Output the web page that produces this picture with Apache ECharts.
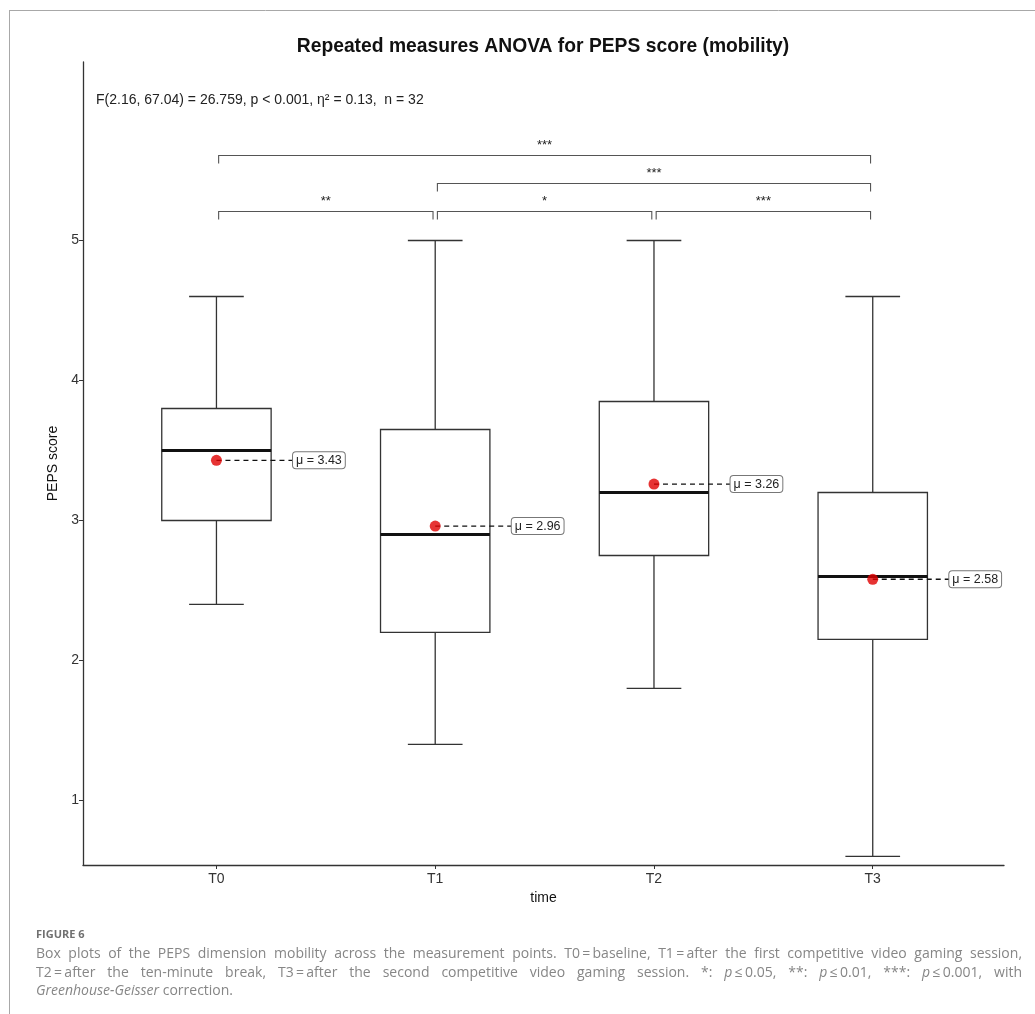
<!DOCTYPE html>
<html><head><meta charset="utf-8">
<script src="https://cdn.jsdelivr.net/npm/echarts@6/dist/echarts.min.js"></script>
<style>html,body{margin:0;padding:0;background:#fff}#c{width:1035px;height:1014px}</style>
</head><body><div id="c"></div>
<script>
// ---- data ----
const categories = ['T0', 'T1', 'T2', 'T3'];
const whiskerLow  = [2.4, 1.4, 1.8, 0.6];
const quart1      = [3.0, 2.2, 2.75, 2.15];
const median      = [3.5, 2.9, 3.2, 2.6];
const quart3      = [3.8, 3.65, 3.85, 3.2];
const whiskerHigh = [4.6, 5.0, 5.0, 4.6];
const means       = [3.43, 2.96, 3.26, 2.58];
const yTicks      = [1, 2, 3, 4, 5];
const cmpFrom  = [0, 1, 2, 1, 0];
const cmpTo    = [1, 2, 3, 3, 3];
const cmpRow   = [0, 0, 0, 1, 2];
const cmpLabel = ['**', '*', '***', '***', '***'];
const titleText = 'Repeated measures ANOVA for PEPS score (mobility)';
const statText = 'F(2.16, 67.04) = 26.759, p < 0.001, \u03b7\u00b2 = 0.13,  n = 32';
const captionHead = 'FIGURE 6';
const captionLines = [
  ['Box plots of the PEPS dimension mobility across the measurement points. T0\u2009=\u2009baseline, T1\u2009=\u2009after the first competitive video gaming session,', true],
  ['T2\u2009=\u2009after the ten-minute break, T3\u2009=\u2009after the second competitive video gaming session. *: {i|p}\u2009\u2264\u20090.05, **: {i|p}\u2009\u2264\u20090.01, ***: {i|p}\u2009\u2264\u20090.001, with', true],
  ['{i|Greenhouse-Geisser} correction.', false]
];

// ---- style constants ----
const FONT = '"Liberation Sans", Arial, sans-serif';
const CAPFONT = '"Open Sans", sans-serif';
const INK = '#333';
const bracketBase = 5.207, bracketStep = 0.2;

const chart = echarts.init(document.getElementById('c'), null, {renderer: 'canvas'});

function renderBox(params, api) {
  const x = api.value(0);
  const lo = api.coord([x, api.value(1)]);
  const b1 = api.coord([x, api.value(2)]);
  const md = api.coord([x, api.value(3)]);
  const b3 = api.coord([x, api.value(4)]);
  const hi = api.coord([x, api.value(5)]);
  const bw = api.size([0.5, 0])[0];
  const cw = api.size([0.25, 0])[0];
  const cx = lo[0];
  const st = {stroke: INK, lineWidth: 1.3, fill: null};
  return {type: 'group', children: [
    {type: 'line', shape: {x1: cx, y1: hi[1], x2: cx, y2: b3[1]}, style: st},
    {type: 'line', shape: {x1: cx, y1: b1[1], x2: cx, y2: lo[1]}, style: st},
    {type: 'line', shape: {x1: cx - cw / 2, y1: hi[1], x2: cx + cw / 2, y2: hi[1]}, style: st},
    {type: 'line', shape: {x1: cx - cw / 2, y1: lo[1], x2: cx + cw / 2, y2: lo[1]}, style: st},
    {type: 'rect', shape: {x: cx - bw / 2, y: b3[1], width: bw, height: b1[1] - b3[1]}, style: {stroke: INK, lineWidth: 1.3, fill: '#fff'}},
    {type: 'line', shape: {x1: cx - bw / 2, y1: md[1], x2: cx + bw / 2, y2: md[1]}, style: {stroke: '#111', lineWidth: 3}}
  ]};
}

function renderMeanLabel(params, api) {
  const x = api.value(0), m = api.value(1);
  const p = api.coord([x, m]);
  const off = api.size([0.35, 0])[0];
  return {type: 'group', children: [
    {type: 'line', shape: {x1: p[0], y1: p[1], x2: p[0] + off, y2: p[1]}, style: {stroke: '#111', lineWidth: 1.3, lineDash: [5, 4]}},
    {type: 'text', x: p[0] + off, y: p[1], style: {
      text: '\u03bc = ' + m.toFixed(2), fontSize: 12.5, fontFamily: FONT, fill: '#222',
      align: 'left', verticalAlign: 'middle',
      backgroundColor: '#fff', borderColor: '#777', borderWidth: 1, borderRadius: 3, padding: [2, 3, 1, 3]
    }}
  ]};
}

function renderBracket(params, api) {
  const a = api.value(0), b = api.value(1), row = api.value(2), li = api.value(3);
  const yb = bracketBase + bracketStep * row;
  const p1 = api.coord([a + 0.01, yb]);
  const p2 = api.coord([b - 0.01, yb]);
  const tip = api.size([0, 0.057])[1];
  return {type: 'group', children: [
    {type: 'polyline', shape: {points: [[p1[0], p1[1] + tip], [p1[0], p1[1]], [p2[0], p2[1]], [p2[0], p2[1] + tip]]},
      style: {stroke: '#555', lineWidth: 1.1, fill: null}},
    {type: 'text', x: (p1[0] + p2[0]) / 2, y: p1[1] - 10, style: {
      text: cmpLabel[li], fontSize: 13, fontFamily: FONT, fill: '#222', align: 'center', verticalAlign: 'middle'}}
  ]};
}

// caption layout (justified)
const mctx = document.createElement('canvas').getContext('2d');
function measure(word, size, family) {
  let w = 0;
  const re = /\{i\|([^}]*)\}|([^{]+)/g;
  let m;
  while ((m = re.exec(word)) !== null) {
    if (m[1] !== undefined) { mctx.font = 'italic ' + size + 'px ' + family; w += mctx.measureText(m[1]).width; }
    else { mctx.font = size + 'px ' + family; w += mctx.measureText(m[2]).width; }
  }
  return w;
}
const capGraphics = [];
const capLeft = 36, capRight = 1022, capSize = 14, capColor = '#868686';
const capMids = [954, 973, 991];
captionLines.forEach(([line, justify], li) => {
  const words = line.split(' ');
  const widths = words.map(w => measure(w, capSize, CAPFONT));
  const total = widths.reduce((s, v) => s + v, 0);
  const space = justify ? (capRight - capLeft - total) / (words.length - 1) : measure(' ', capSize, CAPFONT);
  let x = capLeft;
  words.forEach((w, wi) => {
    capGraphics.push({type: 'text', x: x, y: capMids[li], style: {
      text: w, fontSize: capSize, fontFamily: CAPFONT, fill: capColor, verticalAlign: 'middle',
      rich: {i: {fontStyle: 'italic', fontSize: capSize, fontFamily: CAPFONT, fill: capColor}}
    }});
    x += widths[wi] + space;
  });
});

const option = {
  backgroundColor: '#fff',
  animation: false,
  grid: {left: 83, right: 31, top: 62, bottom: 149, containLabel: false},
  xAxis: {
    type: 'value', min: 0.39, max: 4.6,
    name: 'time', nameLocation: 'middle', nameGap: 23,
    nameTextStyle: {fontSize: 14, fontFamily: FONT, color: '#111'},
    axisLine: {show: true, lineStyle: {color: INK, width: 1.3}},
    axisTick: {show: true, length: 4, customValues: [1, 2, 3, 4], lineStyle: {color: INK}},
    axisLabel: {customValues: [1, 2, 3, 4], formatter: v => categories[Math.round(v) - 1], fontSize: 14, fontFamily: FONT, color: '#333', margin: 7},
    splitLine: {show: false}
  },
  yAxis: {
    type: 'value', min: 0.539, max: 6.275,
    name: 'PEPS score', nameLocation: 'middle', nameGap: 22,
    nameTextStyle: {fontSize: 14, fontFamily: FONT, color: '#111'},
    axisLine: {show: true, lineStyle: {color: INK, width: 1.3}},
    axisTick: {show: true, length: 4, customValues: yTicks, lineStyle: {color: INK}},
    axisLabel: {customValues: yTicks, fontSize: 14, fontFamily: FONT, color: '#333', margin: 4},
    splitLine: {show: false}
  },
  series: [
    {type: 'custom', renderItem: renderBox, z: 2,
      data: categories.map((c, i) => [i + 1, whiskerLow[i], quart1[i], median[i], quart3[i], whiskerHigh[i]])},
    {type: 'custom', renderItem: renderMeanLabel, z: 3,
      data: means.map((m, i) => [i + 1, m])},
    {type: 'scatter', z: 4, symbolSize: 11, itemStyle: {color: '#e00000'},
      data: means.map((m, i) => [i + 1, m])},
    {type: 'custom', renderItem: renderBracket, z: 3,
      data: cmpFrom.map((f, i) => [f + 1, cmpTo[i] + 1, cmpRow[i], i])}
  ],
  graphic: [
    {type: 'line', shape: {x1: 9, y1: 10.5, x2: 1035, y2: 10.5}, style: {stroke: '#a8a8a8', lineWidth: 1}},
    {type: 'line', shape: {x1: 9.5, y1: 10, x2: 9.5, y2: 1014}, style: {stroke: '#a8a8a8', lineWidth: 1}},
    {type: 'text', x: 543, y: 47, style: {text: titleText, fontSize: 19.3, fontWeight: 'bold', fontFamily: FONT, fill: '#111', align: 'center', verticalAlign: 'middle'}},
    {type: 'text', x: 96, y: 100, style: {text: statText, fontSize: 14, fontFamily: FONT, fill: '#222', align: 'left', verticalAlign: 'middle'}},
    {type: 'text', x: 36, y: 935, style: {text: captionHead, fontSize: 11, fontWeight: 'bold', fontFamily: CAPFONT, fill: '#707070', verticalAlign: 'middle'}}
  ].concat(capGraphics)
};
chart.setOption(option);
</script></body></html>
